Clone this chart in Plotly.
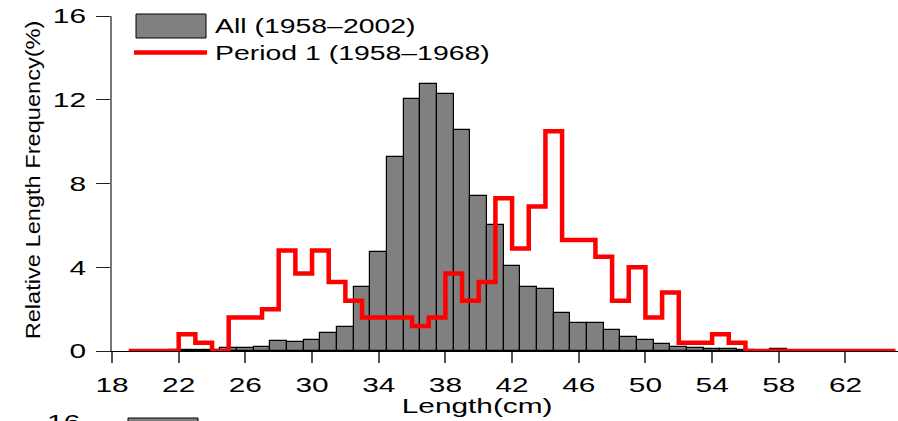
import json
import plotly.graph_objects as go

# ---- data -------------------------------------------------------------
# All years (1958-2002): relative frequency (%) per 1-cm length class (bar centres)
all_lengths = list(range(22, 59))
all_freq = [0.07, 0.07, 0.05, 0.12, 0.12, 0.18, 0.49, 0.44, 0.53, 0.87,
            1.13, 3.04, 4.74, 9.25, 12.03, 12.75, 12.26, 10.55, 7.42, 6.00,
            4.05, 3.07, 2.95, 1.82, 1.32, 1.35, 0.99, 0.68, 0.51, 0.33,
            0.21, 0.12, 0.11, 0.11, 0.06, 0.00, 0.10]

# Period 1 (1958-1968): relative frequency (%) per 1-cm class [L, L+1)
p1_lengths = list(range(19, 65))
p1_freq = [0.0, 0.0, 0.0, 0.8, 0.4, 0.0, 1.6, 1.6, 2.0, 4.8,
           3.7, 4.8, 3.3, 2.4, 1.6, 1.6, 1.6, 1.2, 1.6, 3.7,
           2.4, 3.3, 7.3, 4.9, 6.9, 10.5, 5.3, 5.3, 4.5, 2.4,
           4.0, 1.6, 2.8, 0.4, 0.4, 0.8, 0.4, 0.0, 0.0, 0.0,
           0.0, 0.0, 0.0, 0.0, 0.0, 0.0]

x_ticks = [18, 22, 26, 30, 34, 38, 42, 46, 50, 54, 58, 62]
y_ticks = [0, 4, 8, 12, 16]

legend_labels = ["All (1958\u20132002)", "Period 1 (1958\u20131968)"]
x_title = "Length(cm)"
y_title = "Relative Length Frequency(%)"

# ---- layout geometry (pixels) ------------------------------------------
W, H = 898, 421
L, R, T, B = 112, 898, 16, 351
FONT = "Liberation Sans, Arial, Helvetica, sans-serif"


def px_x(p):
    return (p - L) / (R - L)


def px_y(p):
    return (B - p) / (B - T)


# step outline for the period-1 distribution
step_x = p1_lengths + [p1_lengths[-1] + 1]
step_y = p1_freq + [p1_freq[-1]]

fig = go.Figure()
fig.add_trace(go.Bar(
    x=all_lengths, y=all_freq, width=1,
    marker=dict(color="#808080", line=dict(color="#000000", width=1.2)),
    name=legend_labels[0], showlegend=False,
))
fig.add_trace(go.Scatter(
    x=step_x, y=step_y, mode="lines", line_shape="hv",
    line=dict(color="#ff0000", width=4.5),
    name=legend_labels[1], showlegend=False,
))

fig.update_layout(
    width=W, height=H,
    margin=dict(l=L, r=W - R, t=T, b=H - B, pad=0),
    paper_bgcolor="white", plot_bgcolor="white",
    font=dict(family=FONT, size=20, color="black"),
    bargap=0,
)
fig.update_xaxes(
    range=[18, 18 + (R - L) / 16.67], tickvals=x_ticks,
    showgrid=False, zeroline=False,
    showline=True, linecolor="black", linewidth=1,
    ticks="outside", ticklen=11, tickwidth=1.5, tickcolor="#555555",
    tickfont=dict(size=21), ticklabelstandoff=4,
)
fig.update_yaxes(
    range=[0, 16], tickvals=y_ticks,
    showgrid=False, zeroline=False,
    showline=True, linecolor="#777777", linewidth=1.5,
    ticks="outside", ticklen=14, tickwidth=1, tickcolor="#222222",
    tickfont=dict(size=21), ticklabelstandoff=6,
)

shapes = [
    # legend swatches
    dict(type="rect", xref="paper", yref="paper",
         x0=px_x(136), x1=px_x(206), y0=px_y(38), y1=px_y(14),
         fillcolor="#808080", line=dict(color="black", width=1)),
    dict(type="line", xref="paper", yref="paper",
         x0=px_x(134), x1=px_x(207), y0=px_y(52.5), y1=px_y(52.5),
         line=dict(color="#ff0000", width=4.5)),
    # top of the next panel's legend swatch
    dict(type="rect", xref="paper", yref="paper",
         x0=px_x(128), x1=px_x(198), y0=px_y(445), y1=px_y(418),
         fillcolor="#808080", line=dict(color="black", width=1)),
]
fig.update_layout(shapes=shapes)

annotations = [
    dict(text=legend_labels[0], x=px_x(213), y=px_y(26), xanchor="left",
         yanchor="middle", align="left", showarrow=False, font=dict(size=20)),
    dict(text=legend_labels[1], x=px_x(213), y=px_y(53), xanchor="left",
         yanchor="middle", align="left", showarrow=False, font=dict(size=20)),
    dict(text=x_title, x=px_x(477), y=px_y(405), xanchor="center",
         yanchor="middle", showarrow=False, font=dict(size=21)),
    dict(text=y_title, x=px_x(33), y=px_y(180), xanchor="center",
         yanchor="middle", textangle=-90, showarrow=False, font=dict(size=20)),
    # y-axis top label of the next panel
    dict(text="16", x=px_x(63), y=px_y(408), xanchor="center",
         yanchor="top", showarrow=False, font=dict(size=21)),
]
for a in annotations:
    a.update(xref="paper", yref="paper")
fig.update_layout(annotations=annotations)

# wide lettering: horizontal text is stretched along its baseline
stretch_default = 1.42
stretch_special = {y_title: 1.18}
post = """
var gd = document.getElementById('{plot_id}');
var special = %s;
gd.querySelectorAll('svg text').forEach(function(t){
  var s = t.textContent;
  var k = special.hasOwnProperty(s) ? special[s] : %s;
  var w = t.getComputedTextLength();
  if (w > 0) {
    t.setAttribute('textLength', (w * k).toFixed(2));
    t.setAttribute('lengthAdjust', 'spacingAndGlyphs');
  }
});
""" % (json.dumps(stretch_special), stretch_default)

fig.write_html("out.html", config={"displayModeBar": False}, post_script=post)
